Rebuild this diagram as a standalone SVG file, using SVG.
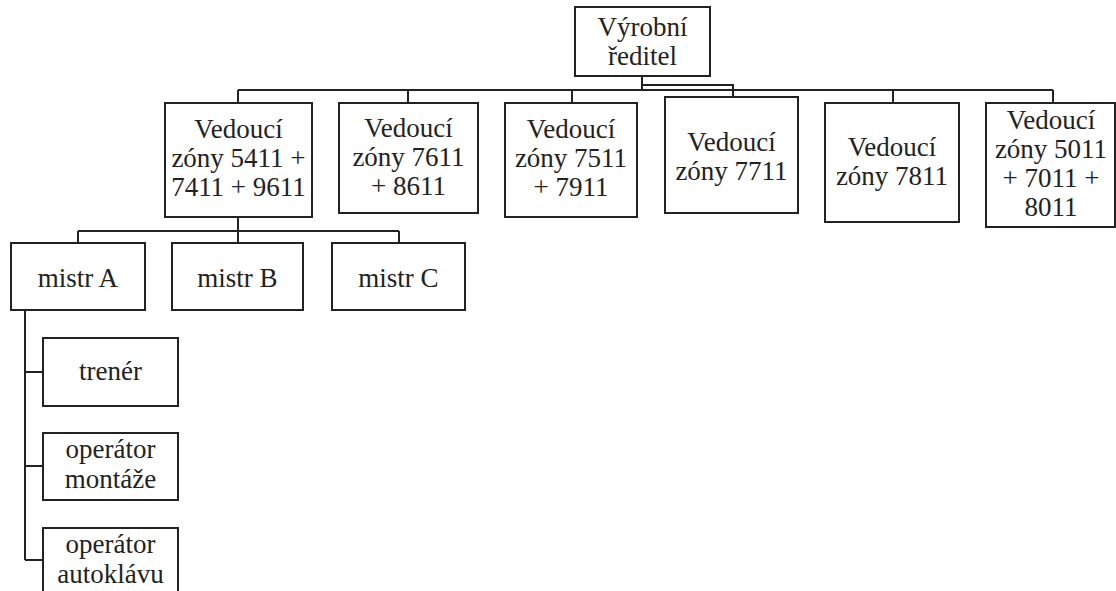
<svg xmlns="http://www.w3.org/2000/svg" width="1116" height="591" viewBox="0 0 1116 591">
<style>
rect.box{fill:#fff;stroke:#222;stroke-width:2}
.con{fill:none;stroke:#222;stroke-width:2}
text{font-family:'Liberation Serif','DejaVu Serif',serif;font-size:27px;fill:#222;text-anchor:middle}
</style>
<rect width="1116" height="591" fill="#fff"/>
<g id="connectors" class="con">
<path d="M642 76V90M238 90H1053M642 85H733V97"/>
<path d="M238 90V103M408 90V103M572 90V103M893 90V103M1053 90V103"/>
<path d="M238 217V231M78 231H399M78 231V243M238 231V243M399 231V243"/>
<path d="M25 310V560M25 372H43M25 466H43M25 560H43"/>
</g>
<g id="n0"><rect class="box" x="575" y="7" width="135" height="69"/><text x="642.5" y="36">Výrobní</text><text x="642.5" y="65">ředitel</text></g>
<g id="n1"><rect class="box" x="165" y="103" width="147" height="114"/><text x="238.5" y="138">Vedoucí</text><text x="238.5" y="167">zóny 5411 +</text><text x="238.5" y="196">7411 + 9611</text></g>
<g id="n2"><rect class="box" x="339" y="103" width="139" height="110"/><text x="408.5" y="137">Vedoucí</text><text x="408.5" y="166">zóny 7611</text><text x="408.5" y="195">+ 8611</text></g>
<g id="n3"><rect class="box" x="505" y="103" width="132" height="114"/><text x="571" y="138">Vedoucí</text><text x="571" y="167">zóny 7511</text><text x="571" y="196">+ 7911</text></g>
<g id="n4"><rect class="box" x="665" y="97" width="133" height="116"/><text x="731.5" y="151">Vedoucí</text><text x="731.5" y="180">zóny 7711</text></g>
<g id="n5"><rect class="box" x="825" y="103" width="134" height="119"/><text x="892" y="156">Vedoucí</text><text x="892" y="185">zóny 7811</text></g>
<g id="n6"><rect class="box" x="986" y="103" width="129" height="124"/><text x="1051" y="129">Vedoucí</text><text x="1051" y="158">zóny 5011</text><text x="1051" y="187">+ 7011 +</text><text x="1051" y="216">8011</text></g>
<g id="n7"><rect class="box" x="11" y="243" width="134" height="67"/><text x="78" y="287">mistr A</text></g>
<g id="n8"><rect class="box" x="172" y="243" width="131" height="67"/><text x="237.5" y="287">mistr B</text></g>
<g id="n9"><rect class="box" x="332" y="243" width="133" height="67"/><text x="398.5" y="287">mistr C</text></g>
<g id="n10"><rect class="box" x="43" y="338" width="135" height="68"/><text x="110.5" y="380">trenér</text></g>
<g id="n11"><rect class="box" x="43" y="433" width="135" height="67"/><text x="110.5" y="458">operátor</text><text x="110.5" y="488">montáže</text></g>
<g id="n12"><rect class="box" x="43" y="528" width="135" height="70"/><text x="110.5" y="553">operátor</text><text x="110.5" y="583">autoklávu</text></g>
</svg>
